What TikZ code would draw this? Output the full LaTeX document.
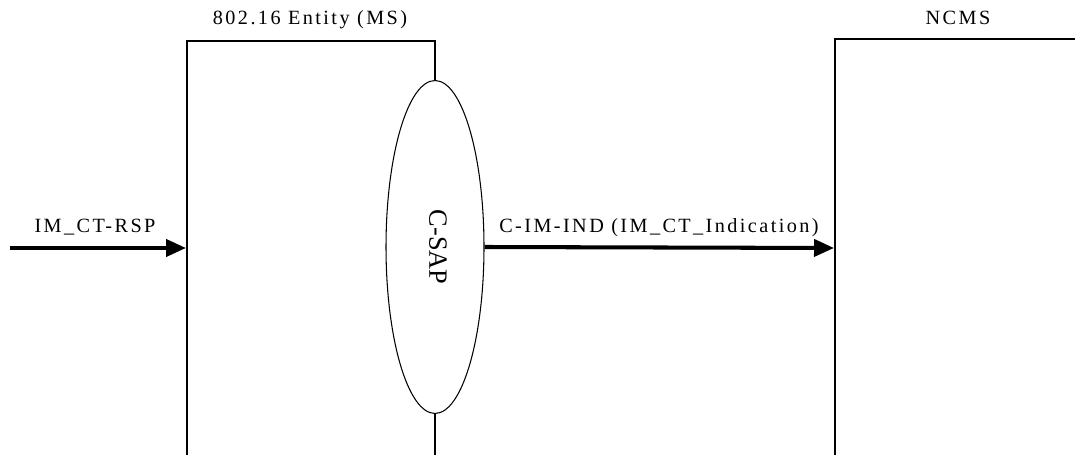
\documentclass[tikz,border=0pt]{standalone}
\usepackage{fontspec}
\setmainfont{Liberation Serif}
\usetikzlibrary{shapes.geometric, arrows.meta}

\tikzset{
  lbl/.style={font=\fontsize{11.5}{13}\selectfont\addfontfeature{LetterSpace=12}, anchor=base, inner sep=0pt},
  msg/.style={line width=2.3pt, -{Triangle[length=0.4cm, width=0.34cm]}},
  wall/.style={line width=0.6pt}
}

\begin{document}
\begin{tikzpicture}[x=0.02cm, y=-0.02cm]
\useasboundingbox (0,0) rectangle (1075,455);
\node[draw, wall, ellipse, minimum width=1.96cm, minimum height=6.66cm, inner sep=0pt] (csap) at (435,247) {};
\node[rotate=-90, font=\fontsize{15}{18}\selectfont] (csaptext) at (438,247) {C-SAP};
\draw[wall] (187,455) -- (187,41) -- (435,41) -- (csap.north);
\draw[wall] (csap.south) -- (435,455);
\draw[wall] (835,455) -- (835,39) -- (1075,39);
\node[lbl] (mslabel) at (310,25) {802.16 Entity (MS)};
\node[lbl] (ncmslabel) at (958,25) {NCMS};
\coordinate (src) at (10,248);
\coordinate (msin) at (186,248);
\coordinate (ncmsin) at (834,248);
\draw[msg] (src) -- (msin);
\draw[msg] (csap.east) -- (ncmsin);
\node[lbl] (rsplabel) at (95,233) {IM\_CT-RSP};
\node[lbl] (indlabel) at (659,233) {C-IM-IND (IM\_CT\_Indication)};
\end{tikzpicture}
\end{document}
